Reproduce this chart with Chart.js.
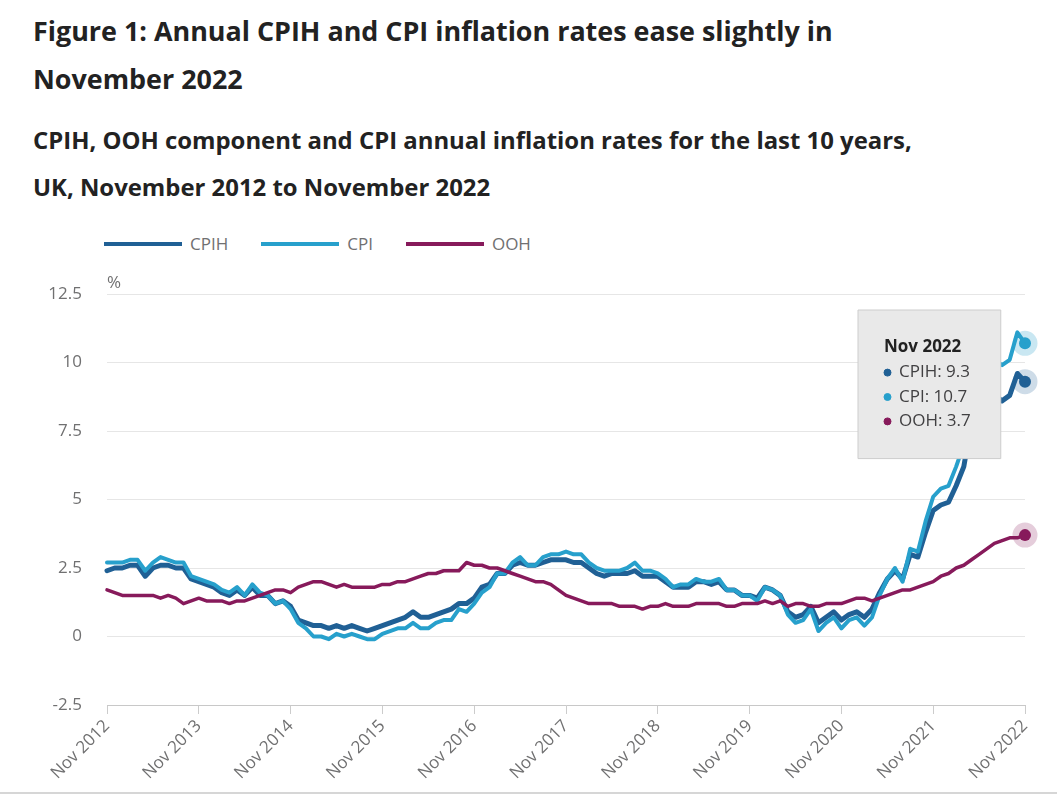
<!DOCTYPE html>
<html>
<head>
<meta charset="utf-8">
<script src="https://cdn.jsdelivr.net/npm/chart.js@4.4.0/dist/chart.umd.min.js"></script>
<style>
  body { margin: 0; background: #fff; font-family: 'Open Sans', sans-serif; }
  #page { position: relative; width: 1057px; height: 794px; overflow: hidden; border-bottom: 2px solid #d6d6d6; box-sizing: border-box; }
  h1 { position: absolute; left: 33px; top: 7px; margin: 0; font-size: 26.9px; line-height: 48px; font-weight: 700; color: #222; white-space: nowrap; }
  h2 { position: absolute; left: 33px; top: 116px; margin: 0; font-size: 23.9px; line-height: 47px; font-weight: 700; color: #222; white-space: nowrap; }
  #legend { position: absolute; left: 104px; top: 232px; display: flex; font-size: 17px; color: #707071; }
  .item { display: flex; align-items: center; margin-right: 33px; }
  .swatch { width: 78px; height: 4px; margin-right: 8px; }
  #chart { position: absolute; left: 0; top: 225px; }
</style>
</head>
<body>
<div id="page">
  <h1>Figure 1: Annual CPIH and CPI inflation rates ease slightly in<br>November 2022</h1>
  <h2>CPIH, OOH component and CPI annual inflation rates for the last 10 years,<br>UK, November 2012 to November 2022</h2>
  <div id="legend"></div>
  <canvas id="chart" width="1057" height="569"></canvas>
</div>
<script>
// Series names and colours
const seriesNames = ["CPIH", "CPI", "OOH"];
const seriesColors = ["#206095", "#27a0cc", "#871a5b"];
const haloColors = ["rgba(32,96,149,0.22)", "rgba(39,160,204,0.25)", "rgba(135,26,91,0.22)"];

// Monthly values, Nov 2012 to Nov 2022
const cpih = [
  2.4, 2.5,
  2.5, 2.6, 2.6, 2.2, 2.5, 2.6, 2.6, 2.5, 2.5, 2.1, 2.0, 1.9,
  1.8, 1.6, 1.5, 1.7, 1.5, 1.8, 1.5, 1.5, 1.2, 1.3, 1.1, 0.6,
  0.5, 0.4, 0.4, 0.3, 0.4, 0.3, 0.4, 0.3, 0.2, 0.3, 0.4, 0.5,
  0.6, 0.7, 0.9, 0.7, 0.7, 0.8, 0.9, 1.0, 1.2, 1.2, 1.4, 1.8,
  1.9, 2.3, 2.3, 2.6, 2.7, 2.6, 2.6, 2.7, 2.8, 2.8, 2.8, 2.7,
  2.7, 2.5, 2.3, 2.2, 2.3, 2.3, 2.3, 2.4, 2.2, 2.2, 2.2, 2.0,
  1.8, 1.8, 1.8, 2.0, 2.0, 1.9, 2.0, 1.7, 1.7, 1.5, 1.5, 1.4,
  1.8, 1.7, 1.5, 0.9, 0.7, 0.8, 1.1, 0.5, 0.7, 0.9, 0.6, 0.8,
  0.9, 0.7, 1.0, 1.6, 2.1, 2.4, 2.1, 3.0, 2.9, 3.8, 4.6, 4.8,
  4.9, 5.5, 6.2, 7.8, 7.9, 8.2, 8.8, 8.6, 8.8, 9.6, 9.3
];
const cpi = [
  2.7, 2.7,
  2.7, 2.8, 2.8, 2.4, 2.7, 2.9, 2.8, 2.7, 2.7, 2.2, 2.1, 2.0,
  1.9, 1.7, 1.6, 1.8, 1.5, 1.9, 1.6, 1.5, 1.2, 1.3, 1.0, 0.5,
  0.3, 0.0, 0.0, -0.1, 0.1, 0.0, 0.1, 0.0, -0.1, -0.1, 0.1, 0.2,
  0.3, 0.3, 0.5, 0.3, 0.3, 0.5, 0.6, 0.6, 1.0, 0.9, 1.2, 1.6,
  1.8, 2.3, 2.3, 2.7, 2.9, 2.6, 2.6, 2.9, 3.0, 3.0, 3.1, 3.0,
  3.0, 2.7, 2.5, 2.4, 2.4, 2.4, 2.5, 2.7, 2.4, 2.4, 2.3, 2.1,
  1.8, 1.9, 1.9, 2.1, 2.0, 2.0, 2.1, 1.7, 1.7, 1.5, 1.5, 1.3,
  1.8, 1.7, 1.5, 0.8, 0.5, 0.6, 1.0, 0.2, 0.5, 0.7, 0.3, 0.6,
  0.7, 0.4, 0.7, 1.5, 2.1, 2.5, 2.0, 3.2, 3.1, 4.2, 5.1, 5.4,
  5.5, 6.2, 7.0, 9.0, 9.1, 9.4, 10.1, 9.9, 10.1, 11.1, 10.7
];
const ooh = [
  1.7, 1.6,
  1.5, 1.5, 1.5, 1.5, 1.5, 1.4, 1.5, 1.4, 1.2, 1.3, 1.4, 1.3,
  1.3, 1.3, 1.2, 1.3, 1.3, 1.4, 1.5, 1.6, 1.7, 1.7, 1.6, 1.8,
  1.9, 2.0, 2.0, 1.9, 1.8, 1.9, 1.8, 1.8, 1.8, 1.8, 1.9, 1.9,
  2.0, 2.0, 2.1, 2.2, 2.3, 2.3, 2.4, 2.4, 2.4, 2.7, 2.6, 2.6,
  2.5, 2.5, 2.4, 2.3, 2.2, 2.1, 2.0, 2.0, 1.9, 1.7, 1.5, 1.4,
  1.3, 1.2, 1.2, 1.2, 1.2, 1.1, 1.1, 1.1, 1.0, 1.1, 1.1, 1.2,
  1.1, 1.1, 1.1, 1.2, 1.2, 1.2, 1.2, 1.1, 1.1, 1.2, 1.2, 1.2,
  1.3, 1.2, 1.3, 1.1, 1.2, 1.2, 1.1, 1.1, 1.2, 1.2, 1.2, 1.3,
  1.4, 1.4, 1.3, 1.4, 1.5, 1.6, 1.7, 1.7, 1.8, 1.9, 2.0, 2.2,
  2.3, 2.5, 2.6, 2.8, 3.0, 3.2, 3.4, 3.5, 3.6, 3.6, 3.7
];

// Month labels, Nov 2012 to Nov 2022
const monthNames = ["Jan", "Feb", "Mar", "Apr", "May", "Jun", "Jul", "Aug", "Sep", "Oct", "Nov", "Dec"];
const labels = [];
for (let i = 0; i < cpi.length; i++) {
  const m = (10 + i) % 12;
  const y = 2012 + Math.floor((10 + i) / 12);
  labels.push(monthNames[m] + " " + y);
}

// y axis ticks
const yMin = -2.5, yMax = 12.5, yStep = 2.5;

// html legend
const legend = document.getElementById("legend");
seriesNames.forEach((name, i) => {
  const el = document.createElement("div");
  el.className = "item";
  el.innerHTML = '<span class="swatch" style="background:' + seriesColors[i] + '"></span>' + name;
  legend.appendChild(el);
});

Chart.defaults.font.family = "'Open Sans', sans-serif";
Chart.defaults.font.size = 17;
Chart.defaults.color = "#707071";

// fixed tooltip box near top right of the plot
Chart.Tooltip.positioners.topRight = function () {
  const a = this.chart.chartArea;
  return { x: a.right - 167, y: a.top + 16 };
};

// "%" unit label above the plot
const unitLabel = {
  id: "unitLabel",
  afterDraw(chart) {
    const ctx = chart.ctx;
    ctx.save();
    ctx.font = "17px 'Open Sans', sans-serif";
    ctx.fillStyle = "#707071";
    ctx.textBaseline = "middle";
    ctx.fillText("%", chart.chartArea.left, chart.chartArea.top - 11);
    ctx.restore();
  }
};

const seriesData = [cpih, cpi, ooh];
const widths = [5, 4, 3.5];
const orders = [3, 2, 1];

const chart = new Chart(document.getElementById("chart"), {
  type: "line",
  data: {
    labels: labels,
    datasets: seriesNames.map((name, i) => ({
      label: name,
      data: seriesData[i],
      borderColor: seriesColors[i],
      backgroundColor: seriesColors[i],
      borderWidth: widths[i],
      borderJoinStyle: "round",
      borderCapStyle: "round",
      pointRadius: 0,
      pointHoverRadius: 6,
      pointHoverBackgroundColor: seriesColors[i],
      pointHoverBorderColor: haloColors[i],
      pointHoverBorderWidth: 13,
      tension: 0,
      clip: false,
      order: orders[i]
    }))
  },
  options: {
    responsive: false,
    animation: false,
    events: [],
    layout: { padding: { top: 69, right: 32, left: 0, bottom: 0 } },
    scales: {
      x: {
        afterFit(scale) { scale.height = 89; },
        grid: { drawOnChartArea: false, drawTicks: true, tickLength: 9, color: "#cccccc" },
        border: { display: true, color: "#c8c8c8" },
        ticks: {
          autoSkip: false,
          maxRotation: 45,
          minRotation: 45,
          padding: 2,
          callback(value, index) { return index % 12 === 0 ? labels[index] : null; }
        }
      },
      y: {
        min: yMin,
        max: yMax,
        afterFit(scale) { scale.width = 107; },
        grid: { drawTicks: false, color: "#e6e6e6" },
        border: { display: false },
        ticks: { stepSize: yStep, padding: 25 }
      }
    },
    plugins: {
      legend: { display: false },
      tooltip: {
        position: "topRight",
        xAlign: "left",
        yAlign: "top",
        caretSize: 0,
        caretPadding: 0,
        cornerRadius: 0,
        backgroundColor: "#e9e9e9",
        borderColor: "#cdcdcd",
        borderWidth: 1,
        titleColor: "#222222",
        bodyColor: "#414042",
        titleFont: { size: 17, weight: "bold" },
        bodyFont: { size: 17 },
        titleMarginBottom: 5,
        bodySpacing: 4,
        padding: { top: 27, bottom: 27, left: 26, right: 30 },
        usePointStyle: true,
        boxWidth: 7,
        boxHeight: 7,
        boxPadding: 6,
        multiKeyBackground: "rgba(0,0,0,0)",
        itemSort: (a, b) => a.datasetIndex - b.datasetIndex
      }
    }
  },
  plugins: [unitLabel]
});

// show the November 2022 hover state
const last = labels.length - 1;
const active = seriesNames.map((n, i) => ({ datasetIndex: i, index: last }));
chart.setActiveElements(active);
chart.tooltip.setActiveElements(active, { x: 0, y: 0 });
chart.update();
</script>
</body>
</html>
